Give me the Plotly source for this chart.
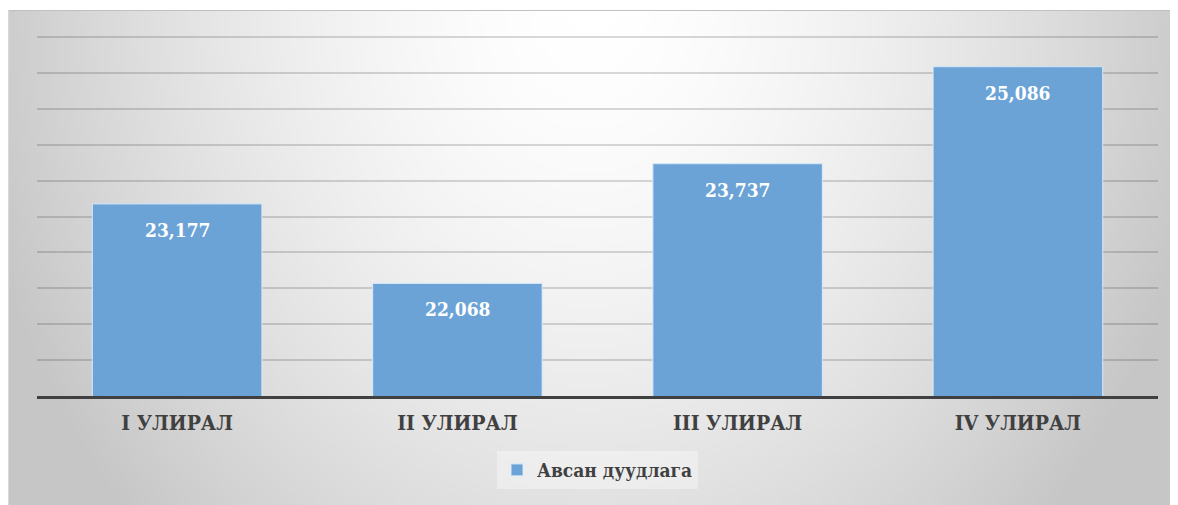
import base64, struct, zlib
import plotly.graph_objects as go

categories = ["I УЛИРАЛ", "II УЛИРАЛ", "III УЛИРАЛ", "IV УЛИРАЛ"]
values = [23177, 22068, 23737, 25086]
series_name = "Авсан дуудлага"

# figure pixel geometry (page body adds an 8px margin)
W, H = 1170, 497
PL, PR, PT, PB = 29, 1150, 27, 388   # plot area in pixels
CL, CT = 0, 2                         # chart-area top-left
GCX = 581                             # gradient centre x


def gradient_png(w, h):
    rows = []
    for j in range(h):
        py = CT + (H - CT) * (j + 0.5) / h
        row = bytearray([0])
        for i in range(w):
            px = CL + (W - CL) * (i + 0.5) / w
            dx = (px - GCX) / 630.0
            dy = (py + 8) / 760.0
            t = min(1.0, (dx * dx + dy * dy) ** 0.5)
            c = int(round(255 - (255 - 198) * t ** 1.6))
            row += bytes([c, c, c])
        rows.append(bytes(row))
    raw = b"".join(rows)

    def chunk(tag, data):
        return struct.pack(">I", len(data)) + tag + data + struct.pack(">I", zlib.crc32(tag + data) & 0xffffffff)

    png = b"\x89PNG\r\n\x1a\n"
    png += chunk(b"IHDR", struct.pack(">IIBBBBB", w, h, 8, 2, 0, 0, 0))
    png += chunk(b"IDAT", zlib.compress(raw, 9))
    png += chunk(b"IEND", b"")
    return "data:image/png;base64," + base64.b64encode(png).decode()


def px_x(p):
    return (p - PL) / (PR - PL)


def px_y(p):
    return (PB - p) / (PB - PT)


FONT = "'DejaVu Serif Condensed', 'DejaVu Serif', serif"

fig = go.Figure()
fig.add_trace(go.Bar(
    x=categories, y=values, name=series_name,
    marker=dict(color="#6ba3d6", line=dict(color="rgba(220,235,250,0.8)", width=1.2)),
    hoverinfo="x+y",
))

for c, v in zip(categories, values):
    fig.add_annotation(x=c, y=v, text=f"<b>{v:,}</b>", showarrow=False,
                       yshift=-26, font=dict(family=FONT, size=19, color="white"))

fig.add_layout_image(dict(
    source=gradient_png(234, 99), xref="paper", yref="paper",
    x=px_x(CL), y=px_y(CT), sizex=(W - CL) / (PR - PL), sizey=(H - CT) / (PB - PT),
    xanchor="left", yanchor="top", sizing="stretch", layer="below",
))
fig.add_shape(type="line", xref="paper", yref="paper",
              x0=px_x(CL), x1=px_x(W), y0=px_y(CT + 0.5), y1=px_y(CT + 0.5),
              line=dict(color="#c0c0c0", width=1))
fig.add_shape(type="line", xref="paper", yref="paper",
              x0=px_x(CL + 0.5), x1=px_x(CL + 0.5), y0=px_y(CT), y1=px_y(H),
              line=dict(color="#d8d8d8", width=1))

fig.update_layout(
    width=W, height=H,
    margin=dict(l=PL, r=W - PR, t=PT, b=H - PB, pad=0),
    paper_bgcolor="white", plot_bgcolor="rgba(0,0,0,0)",
    bargap=0.395,
    showlegend=True,
    legend=dict(orientation="h", x=0.5, xanchor="center", y=px_y(443), yanchor="top",
                bgcolor="rgba(255,255,255,0.35)",
                font=dict(family=FONT, size=19, color="#404040", weight="bold"),
                itemclick=False),
    xaxis=dict(showgrid=False, showline=True, linecolor="#404040", linewidth=3,
               ticks="", tickfont=dict(family=FONT, size=21, color="#404040", weight="bold"),
               ticklabelstandoff=6),
    yaxis=dict(range=[20500, 25528], dtick=500, tick0=20500, showgrid=True,
               gridcolor="rgba(0,0,0,0.15)", gridwidth=2,
               showticklabels=False, zeroline=False, ticks=""),
)

fig.write_html("out.html")
